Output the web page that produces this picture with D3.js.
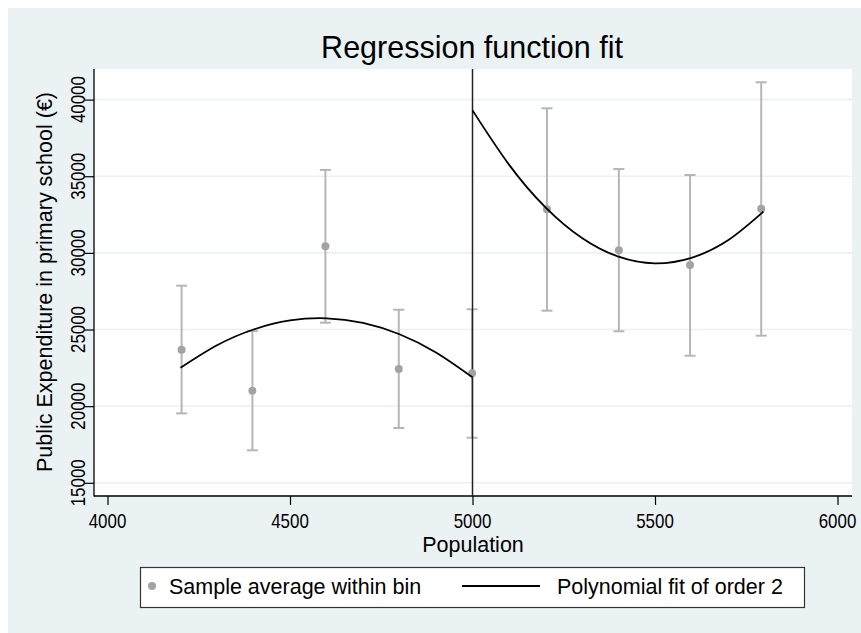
<!DOCTYPE html>
<html>
<head>
<meta charset="utf-8">
<script src="https://cdn.jsdelivr.net/npm/d3@7"></script>
<style>
html,body{margin:0;padding:0;background:#fff;}
svg{display:block;font-family:"Liberation Sans",Arial,Helvetica,sans-serif;}
</style>
</head>
<body>
<svg id="chart" width="861" height="633"></svg>
<script>
// ---- data ----
const binX     = [4203, 4397, 4597, 4798, 4999, 5204, 5401, 5596, 5791];
const binMean  = [23680, 21010, 30430, 22420, 22140, 32840, 30170, 29210, 32880];
const ciLow    = [19530, 17120, 25445, 18575, 17940, 26230, 24885, 23290, 24600];
const ciHigh   = [27860, 24900, 35410, 26290, 26320, 39430, 35470, 35080, 41130];

// fitted curves, every 100 units
const fitLeftX  = [4200, 4300, 4400, 4500, 4600, 4700, 4800, 4900, 5000];
const fitLeftY  = [22500, 23970, 25000, 25590, 25730, 25430, 24690, 23500, 21880];
const fitRightX = [5000, 5100, 5200, 5300, 5400, 5500, 5600, 5700, 5797];
const fitRightY = [39300, 35760, 32970, 30970, 29750, 29320, 29680, 30820, 32690];

const cutoff = 5000;
const xTicks = [4000, 4500, 5000, 5500, 6000];
const yTicks = [15000, 20000, 25000, 30000, 35000, 40000];

const titleText = "Regression function fit";
const xTitle = "Population";
const yTitle = "Public Expenditure in primary school (€)";
const legendLabels = ["Sample average within bin", "Polynomial fit of order 2"];

// ---- layout ----
const W = 861, H = 633;
const plot = {left: 94, top: 69, right: 852, bottom: 496};
const bg = "#eaf2f3";
const pointColor = "#a3a3a3";
const barColor = "#b6b6b6";
const digitW = 9.4; // narrow digits of the reference font

const svg = d3.select("#chart");

svg.append("rect").attr("x", 8).attr("y", 8).attr("width", W - 8).attr("height", H - 8).attr("fill", bg);
svg.append("rect").attr("x", plot.left).attr("y", plot.top)
  .attr("width", plot.right - plot.left).attr("height", plot.bottom - plot.top).attr("fill", "#fff");

const x = d3.scaleLinear().domain([4000, 6000]).range([107.5, 837.5]);
const y = d3.scaleLinear().domain([15000, 40000]).range([482.8, 99.6]);

// gridlines
svg.append("g").selectAll("line").data(yTicks).join("line")
  .attr("x1", plot.left).attr("x2", plot.right)
  .attr("y1", d => y(d)).attr("y2", d => y(d))
  .attr("stroke", bg).attr("stroke-width", 1.6);

// axes with ticks
const yAxis = d3.axisLeft(y).tickValues(yTicks).tickSize(9).tickFormat("");
const gy = svg.append("g").attr("transform", `translate(${plot.left},0)`).call(yAxis);
gy.select(".domain").remove();
gy.selectAll(".tick line").attr("stroke", "#000").attr("stroke-width", 1.2);

const xAxis = d3.axisBottom(x).tickValues(xTicks).tickSize(9).tickFormat("");
const gx = svg.append("g").attr("transform", `translate(0,${plot.bottom})`).call(xAxis);
gx.select(".domain").remove();
gx.selectAll(".tick line").attr("stroke", "#000").attr("stroke-width", 1.2);

svg.append("line").attr("x1", plot.left).attr("x2", plot.left)
  .attr("y1", plot.top).attr("y2", plot.bottom + 0.5).attr("stroke", "#000").attr("stroke-width", 1.3);
svg.append("line").attr("x1", plot.left).attr("x2", plot.right)
  .attr("y1", plot.bottom).attr("y2", plot.bottom).attr("stroke", "#000").attr("stroke-width", 1.3);

// tick labels
svg.append("g").selectAll("text").data(xTicks).join("text")
  .attr("x", d => x(d)).attr("y", 528).attr("text-anchor", "middle")
  .attr("font-size", 21).attr("fill", "#000")
  .attr("textLength", d => String(d).length * digitW).attr("lengthAdjust", "spacingAndGlyphs")
  .text(d => d);
svg.append("g").selectAll("text").data(yTicks).join("text")
  .attr("transform", d => `translate(85,${y(d)}) rotate(-90)`).attr("text-anchor", "middle")
  .attr("font-size", 21).attr("fill", "#000")
  .attr("textLength", d => String(d).length * digitW).attr("lengthAdjust", "spacingAndGlyphs")
  .text(d => d);

// titles
svg.append("text").attr("x", 472).attr("y", 58).attr("text-anchor", "middle")
  .attr("font-size", 30.5).attr("fill", "#000").text(titleText);
svg.append("text").attr("x", 473).attr("y", 552).attr("text-anchor", "middle")
  .attr("font-size", 21.5).attr("fill", "#000").text(xTitle);
svg.append("text").attr("transform", "translate(52,282) rotate(-90)").attr("text-anchor", "middle")
  .attr("font-size", 21.5).attr("fill", "#000").text(yTitle);

// error bars
const bins = binX.map((d, i) => ({x: d, m: binMean[i], lo: ciLow[i], hi: ciHigh[i]}));
const eb = svg.append("g").attr("stroke", barColor).attr("stroke-width", 2).attr("fill", "none");
eb.selectAll(".v").data(bins).join("line")
  .attr("x1", d => x(d.x)).attr("x2", d => x(d.x)).attr("y1", d => y(d.lo)).attr("y2", d => y(d.hi));
eb.selectAll(".t").data(bins).join("line")
  .attr("x1", d => x(d.x) - 5.5).attr("x2", d => x(d.x) + 5.5).attr("y1", d => y(d.hi)).attr("y2", d => y(d.hi));
eb.selectAll(".b").data(bins).join("line")
  .attr("x1", d => x(d.x) - 5.5).attr("x2", d => x(d.x) + 5.5).attr("y1", d => y(d.lo)).attr("y2", d => y(d.lo));

// cutoff line
svg.append("line").attr("x1", x(cutoff)).attr("x2", x(cutoff))
  .attr("y1", plot.top).attr("y2", plot.bottom).attr("stroke", "#222").attr("stroke-width", 1.5);

// points
svg.append("g").selectAll("circle").data(bins).join("circle")
  .attr("cx", d => x(d.x)).attr("cy", d => y(d.m)).attr("r", 4).attr("fill", pointColor);

// fitted curves
const line = d3.line().x(d => x(d[0])).y(d => y(d[1])).curve(d3.curveNatural);
svg.append("path").datum(fitLeftX.map((d, i) => [d, fitLeftY[i]]))
  .attr("d", line).attr("fill", "none").attr("stroke", "#000").attr("stroke-width", 1.8);
svg.append("path").datum(fitRightX.map((d, i) => [d, fitRightY[i]]))
  .attr("d", line).attr("fill", "none").attr("stroke", "#000").attr("stroke-width", 1.8);

// legend
const lg = svg.append("g");
lg.append("rect").attr("x", 140.5).attr("y", 567.5).attr("width", 664).attr("height", 40)
  .attr("fill", "#fff").attr("stroke", "#333").attr("stroke-width", 1.2);
lg.append("circle").attr("cx", 152).attr("cy", 586).attr("r", 4).attr("fill", pointColor);
lg.append("text").attr("x", 169).attr("y", 594).attr("font-size", 21.5).attr("fill", "#000").text(legendLabels[0]);
lg.append("line").attr("x1", 462).attr("x2", 540).attr("y1", 586).attr("y2", 586)
  .attr("stroke", "#000").attr("stroke-width", 1.8);
lg.append("text").attr("x", 557).attr("y", 594).attr("font-size", 21.5).attr("fill", "#000").text(legendLabels[1]);
</script>
</body>
</html>
